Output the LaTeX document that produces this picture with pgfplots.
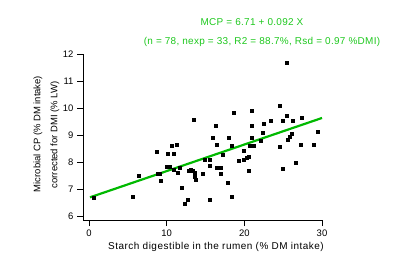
\documentclass[border=0pt]{standalone}
\usepackage{pgfplots}
\pgfplotsset{compat=1.18}
\usepackage{fontspec}
\setmainfont{Liberation Sans}
\definecolor{lgreen}{RGB}{0,185,0}
\definecolor{tgreen}{RGB}{30,200,30}
\begin{document}
\begin{tikzpicture}[x=1bp,y=1bp]
\path[use as bounding box] (0,0) rectangle (393,255);
\begin{axis}[
  at={(83bp,35bp)}, anchor=south west,
  scale only axis, width=239bp, height=166bp,
  xmin=-0.77, xmax=30, ymin=5.85, ymax=12,
  axis x line*=bottom, axis y line*=left,
  axis line style={-, line width=0.9pt, black},
  xtick={0,10,20,30}, ytick={6,7,8,9,10,11,12},
  tick align=outside, major tick length=6bp,
  tick style={line width=0.9pt, black},
  /pgf/number format/assume math mode=true,
  ticklabel style={font=\fontsize{9.5}{11}\selectfont},
  clip=false,
]
\addplot[only marks, mark=square*, mark size=1.5pt, black] coordinates {
(0.55,6.69) (5.57,6.73) (6.35,7.49) (8.66,8.38) (8.79,7.57) (9.05,7.57)
(9.18,7.30) (10.08,8.32) (10.85,8.29) (10.59,8.59) (11.24,8.63) (10.0,7.83)
(10.4,7.83) (10.85,7.70) (11.37,7.62) (11.7,7.80) (11.88,7.03) (12.65,6.62)
(12.27,6.44) (12.78,7.67) (13.1,7.73) (13.4,7.67) (13.55,7.60) (13.64,7.46)
(13.77,7.33) (14.58,7.57) (13.5,9.58) (14.89,8.07) (15.48,8.10) (15.57,7.86)
(15.57,6.59) (15.92,8.91) (16.43,8.63) (16.34,9.33) (16.43,7.80) (17.0,7.80)
(16.95,7.58) (17.16,8.26) (18.0,8.91) (18.36,8.60) (17.85,7.23) (18.4,6.73)
(18.66,9.83) (19.27,8.04) (19.86,8.10) (20.3,8.14) (20.6,8.20) (19.86,8.42)
(20.6,7.68) (20.7,8.59) (21.2,8.59) (20.9,8.90) (20.9,9.89) (21.0,9.33)
(22.1,8.77) (22.4,9.09) (22.5,9.40) (23.4,9.52) (24.6,10.09) (24.6,8.57)
(24.9,7.74) (25.0,9.52) (25.4,11.68) (25.43,9.70) (25.6,8.81) (25.8,8.94)
(26.1,9.04) (26.2,9.52) (26.6,7.99) (27.2,8.65) (27.4,9.64) (28.96,8.65)
(29.4,9.11)
};
\addplot[lgreen, line width=2.2pt] coordinates {(0.13,6.69) (30,9.63)};
\end{axis}
\node[text=tgreen, font=\fontsize{10}{12}\selectfont\addfontfeature{LetterSpace=3}] at (252,233) {MCP = 6.71 + 0.092 X};
\node[text=tgreen, font=\fontsize{10}{12}\selectfont\addfontfeature{LetterSpace=3}] at (262,213) {(n = 78, nexp = 33, R2 = 88.7\%, Rsd = 0.97 \%DMI)};
\node[font=\fontsize{10}{12}\selectfont\addfontfeature{LetterSpace=5}] at (216,8) {Starch digestible in the rumen (\% DM intake)};
\node[rotate=90, font=\fontsize{9.5}{11}\selectfont] at (38,121) {Microbial CP (\% DM intake)};
\node[rotate=90, font=\fontsize{9.5}{11}\selectfont] at (55,120) {corrected for DMI (\% LW)};
\end{tikzpicture}
\end{document}
